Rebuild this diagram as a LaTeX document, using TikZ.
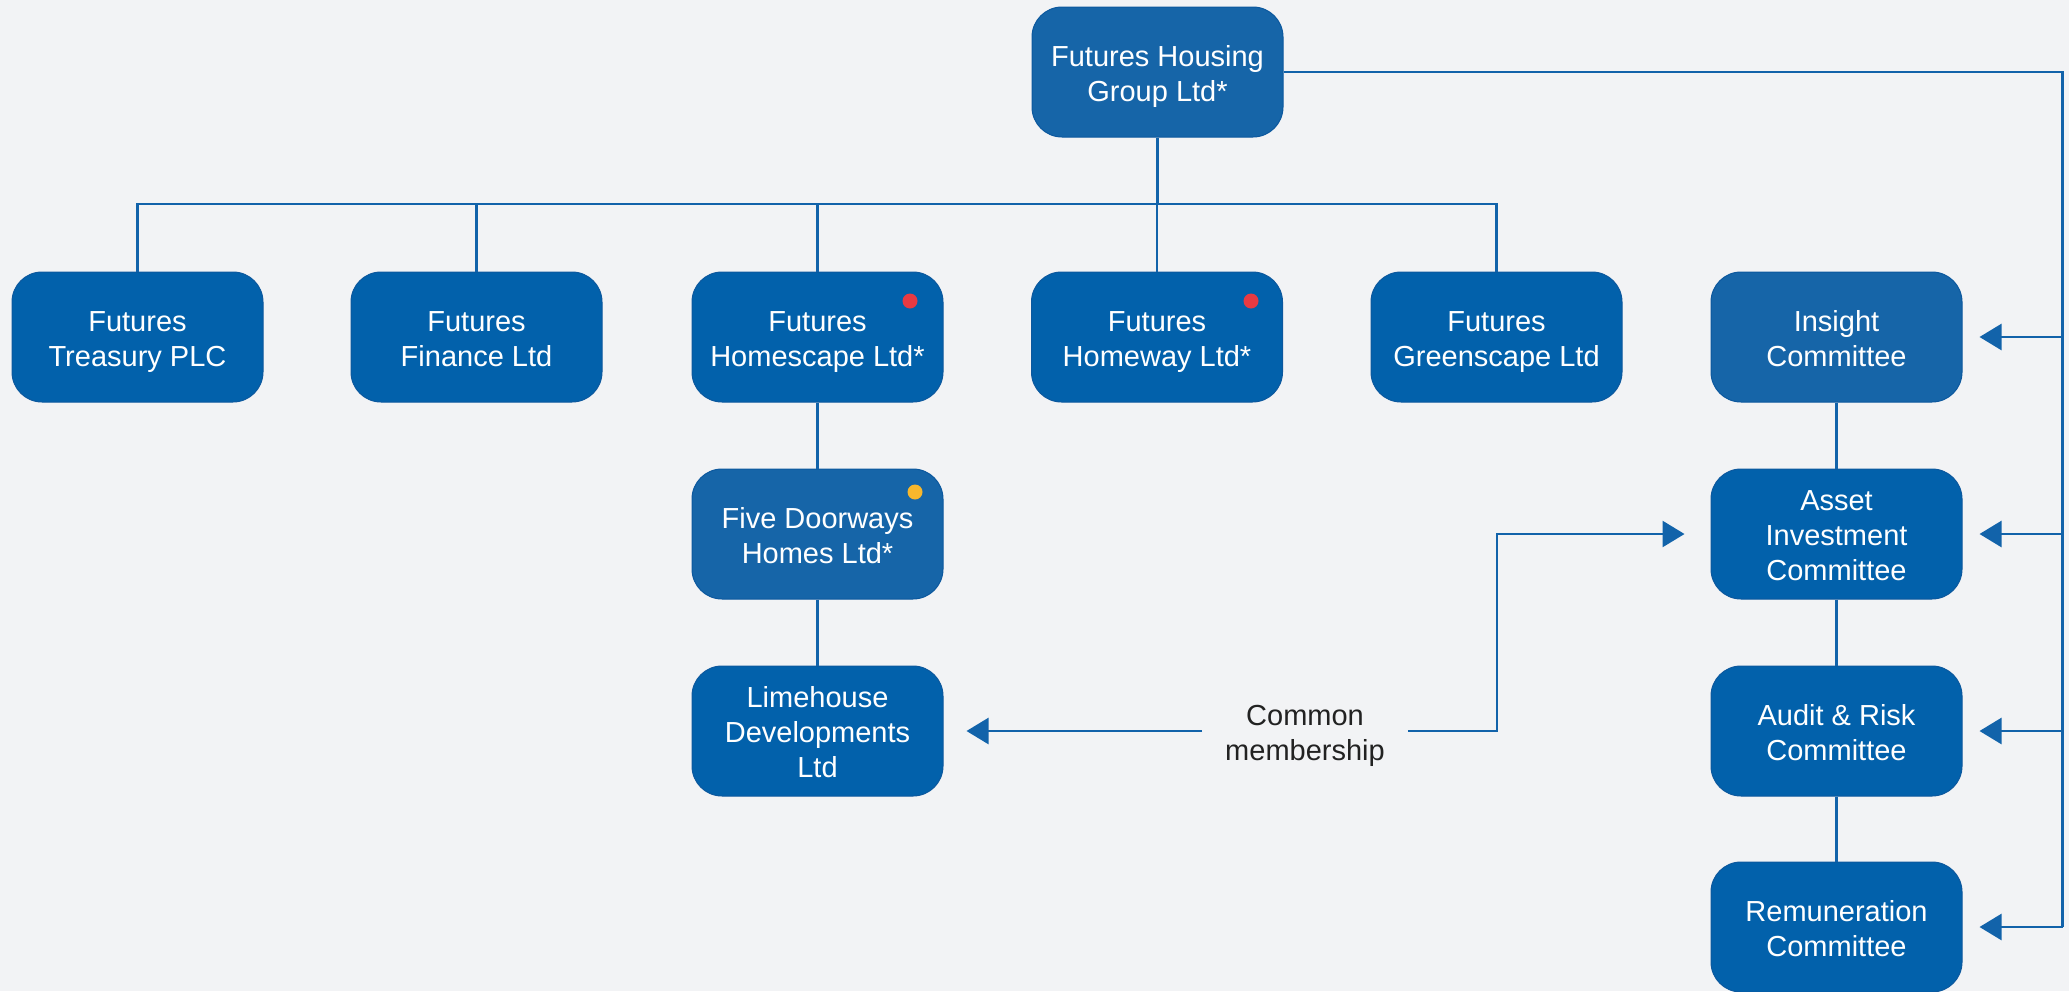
\documentclass[tikz,border=0pt]{standalone}
\usepackage{fontspec}
\setmainfont{Liberation Sans}
\usetikzlibrary{arrows.meta}
\definecolor{bg}{RGB}{242,243,245}
\definecolor{boxa}{RGB}{22,101,168}
\definecolor{boxb}{RGB}{2,97,171}
\definecolor{boxedge}{RGB}{12,88,158}
\definecolor{linec}{RGB}{18,99,170}
\definecolor{dotred}{RGB}{232,58,66}
\definecolor{dotyel}{RGB}{247,183,44}
\definecolor{txtd}{RGB}{34,34,34}
\newcommand{\topst}{\rule{0pt}{31.4pt}}
\newcommand{\botst}{\rule[-8pt]{0pt}{8pt}}
\tikzset{
  orgbox/.style={draw=boxedge, line width=1pt, rounded corners=30pt, minimum width=251pt, minimum height=130pt,
    text=white, align=center, font=\fontsize{29}{35}\selectfont, inner sep=0pt},
  boxA/.style={orgbox, fill=boxa},
  boxB/.style={orgbox, fill=boxb},
  conn/.style={draw=linec, line width=2.6pt},
  arr/.style={conn, -{Triangle[length=22pt,width=26pt]}},
  dotmark/.style={circle, minimum size=15pt, inner sep=0pt},
}
\begin{document}
\begin{tikzpicture}[x=1pt,y=-1pt]
\fill[bg] (0,0) rectangle (2069,991);
\useasboundingbox (0,0) rectangle (2069,991);

\node[boxA] (fhg) at (1157.5,72) {\topst Futures Housing\\Group Ltd*\botst};

\node[boxB] (tre) at (137.5,337) {\topst Futures\\Treasury PLC\botst};
\node[boxB] (fin) at (476.5,337) {\topst Futures\\Finance Ltd\botst};
\node[boxB] (hsc) at (817.5,337) {\topst Futures\\Homescape Ltd*\botst};
\node[boxB] (hwy) at (1157,337) {\topst Futures\\Homeway Ltd*\botst};
\node[boxB] (grn) at (1496.5,337) {\topst Futures\\Greenscape Ltd\botst};
\node[boxA] (ins) at (1836.5,337) {\topst Insight\\Committee\botst};

\node[boxA] (fdw) at (817.5,534) {\topst Five Doorways\\Homes Ltd*\botst};
\node[boxB] (lim) at (817.5,731) {\topst Limehouse\\Developments\\Ltd\botst};

\node[boxB] (ast) at (1836.5,534) {\topst Asset\\Investment\\Committee\botst};
\node[boxB] (aud) at (1836.5,731) {\topst Audit \& Risk\\Committee\botst};
\node[boxB] (rem) at (1836.5,927) {\topst Remuneration\\Committee\botst};

\node[dotmark, fill=dotred] (d1) at (910,301) {};
\node[dotmark, fill=dotred] (d2) at (1251,301) {};
\node[dotmark, fill=dotyel] (d3) at (915,492) {};

\node[text=txtd, align=center, font=\fontsize{29}{35}\selectfont, inner xsep=23pt, inner ysep=0pt] (cm) at (1305,731) {\topst Common\\membership\botst};

% tree bus
\coordinate (busy) at (0,204);
\draw[conn] (fhg.south) -- (fhg.south |- busy);
\draw[conn] (tre.north) -- (tre.north |- busy) -- (grn.north |- busy) -- (grn.north);
\draw[conn] (fin.north) -- (fin.north |- busy);
\draw[conn] (hsc.north) -- (hsc.north |- busy);
\draw[conn] (hwy.north) -- (hwy.north |- busy);

\draw[conn] (hsc.south) -- (fdw.north);
\draw[conn] (fdw.south) -- (lim.north);
\draw[conn] (ins.south) -- (ast.north);
\draw[conn] (ast.south) -- (aud.north);
\draw[conn] (aud.south) -- (rem.north);

% right rail
\coordinate (railb) at (2062.5,927);
\draw[conn] (fhg.east) -| (railb);
\draw[arr, shorten >=17pt] (ins.east -| railb) -- (ins.east);
\draw[arr, shorten >=17pt] (ast.east -| railb) -- (ast.east);
\draw[arr, shorten >=17pt] (aud.east -| railb) -- (aud.east);
\draw[arr, shorten >=17pt] (railb) -- (rem.east);

% common membership
\coordinate (cmturn) at (1497,534);
\draw[arr, shorten >=23pt] (cm.west |- 0,731) -- (lim.east |- 0,731);
\draw[arr, shorten >=26pt] (cm.east |- 0,731) -| (cmturn) -- (ast.west);
\end{tikzpicture}
\end{document}
